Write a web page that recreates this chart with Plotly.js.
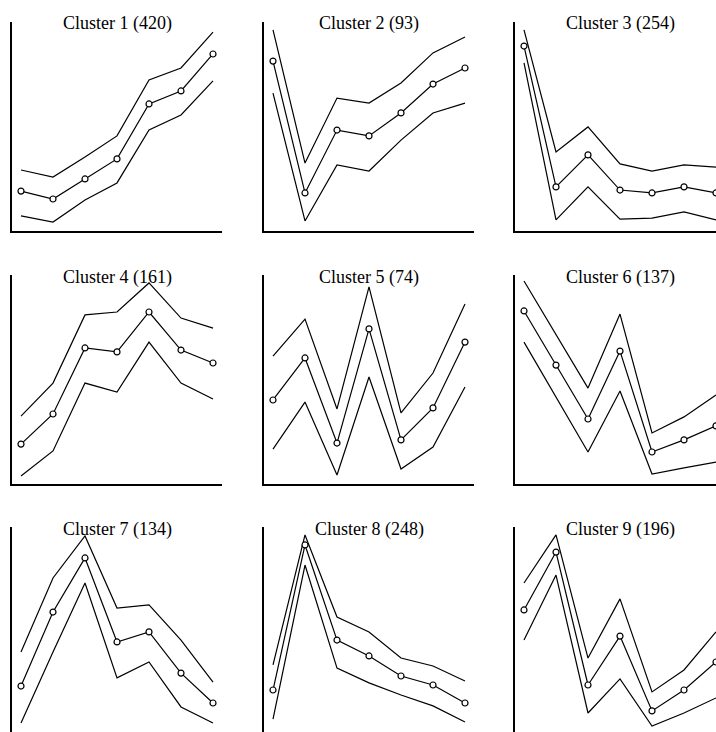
<!DOCTYPE html>
<html>
<head>
<meta charset="utf-8">
<script src="https://cdn.plot.ly/plotly-3.0.1.min.js"></script>
<style>
  html, body { margin: 0; padding: 0; background: #fff; }
  #wrap { width: 716px; height: 732px; overflow: hidden; position: relative; }
  #chart { width: 730px; height: 745px; }
</style>
</head>
<body>
<div id="wrap"><div id="chart"></div></div>
<script>
// ---- data (values on a 0-100 scale) ----
const timePoints = [1, 2, 3, 4, 5, 6, 7];
const clusterNames = ["Cluster 1", "Cluster 2", "Cluster 3", "Cluster 4", "Cluster 5",
                      "Cluster 6", "Cluster 7", "Cluster 8", "Cluster 9"];
const clusterSizes = [420, 93, 254, 161, 74, 137, 134, 248, 196];

const meanProfiles = [
  [19.1, 15.3, 24.9, 34.5, 60.8, 67.0, 84.7],
  [81.3, 18.2, 48.3, 45.5, 56.5, 70.3, 78.0],
  [88.5, 21.1, 36.4, 19.6, 18.2, 21.1, 18.2],
  [19.1, 33.5, 65.1, 63.2, 82.3, 64.1, 57.9],
  [40.2, 60.3, 19.6, 74.2, 21.1, 36.4, 67.9],
  [82.8, 56.9, 31.1, 63.6, 15.3, 21.1, 27.8],
  [23.9, 59.3, 85.2, 45.0, 49.8, 30.1, 15.8],
  [22.0, 91.4, 45.9, 38.3, 28.7, 24.4, 15.8],
  [60.3, 88.0, 24.4, 47.8, 12.0, 22.0, 35.4]
];
const upperBand = [
  [29.2, 25.8, 35.4, 45.5, 72.3, 78.0, 95.2],
  [96.2, 32.5, 63.6, 61.2, 70.8, 85.2, 92.8],
  [96.2, 37.8, 49.8, 32.1, 28.7, 31.6, 30.6],
  [32.5, 48.3, 80.9, 82.3, 96.2, 79.4, 74.6],
  [61.2, 78.9, 35.9, 94.3, 34.0, 53.1, 86.1],
  [97.1, 71.3, 45.9, 81.3, 24.4, 32.1, 42.6],
  [40.2, 75.6, 95.7, 61.2, 62.7, 45.9, 25.8],
  [34.0, 96.2, 56.9, 49.8, 37.3, 33.5, 26.3],
  [73.2, 96.2, 37.3, 65.6, 21.1, 31.6, 49.8]
];
const lowerBand = [
  [7.2, 4.3, 14.8, 23.0, 48.3, 55.5, 71.8],
  [66.0, 4.8, 31.6, 28.7, 43.5, 56.5, 61.2],
  [80.4, 5.3, 21.1, 5.7, 6.2, 9.1, 5.3],
  [3.8, 15.8, 48.3, 44.0, 67.9, 48.3, 40.7],
  [16.7, 39.2, 4.3, 51.2, 7.2, 17.7, 46.4],
  [67.9, 41.6, 15.3, 44.5, 4.8, 7.7, 10.5],
  [6.2, 40.2, 73.2, 27.8, 35.4, 13.9, 6.2],
  [8.1, 81.8, 32.5, 25.4, 19.6, 14.4, 6.7],
  [45.9, 77.0, 11.0, 27.3, 4.8, 11.0, 18.2]
];

// ---- layout geometry (pixels) ----
const W = 730, H = 745;
const colLeft = [12, 264, 515];
const rowTop = [22, 275, 527];
const panelW = 210, panelH = 209;

const traces = [];
const layout = {
  width: W, height: H,
  margin: {l: 0, r: 0, t: 0, b: 0},
  paper_bgcolor: "#fff", plot_bgcolor: "#fff",
  showlegend: false,
  annotations: []
};

for (let k = 0; k < 9; k++) {
  const r = Math.floor(k / 3), c = k % 3;
  const n = k + 1;
  const xa = "x" + (n === 1 ? "" : n), ya = "y" + (n === 1 ? "" : n);
  const L = colLeft[c], T = rowTop[r];
  const axBase = {
    showline: true, linecolor: "#000", linewidth: 2,
    showgrid: false, zeroline: false, ticks: "",
    showticklabels: false, fixedrange: true
  };
  layout["xaxis" + (n === 1 ? "" : n)] = Object.assign({}, axBase, {
    domain: [L / W, (L + panelW) / W],
    range: [0.71875, 7.28125],
    anchor: ya
  });
  layout["yaxis" + (n === 1 ? "" : n)] = Object.assign({}, axBase, {
    domain: [1 - (T + panelH) / H, 1 - T / H],
    range: [0, 100],
    anchor: xa
  });
  const lineStyle = {color: "#000", width: 1.2};
  traces.push({x: timePoints, y: upperBand[k], xaxis: xa, yaxis: ya,
               mode: "lines", line: lineStyle, hoverinfo: "skip"});
  traces.push({x: timePoints, y: lowerBand[k], xaxis: xa, yaxis: ya,
               mode: "lines", line: lineStyle, hoverinfo: "skip"});
  traces.push({x: timePoints, y: meanProfiles[k], xaxis: xa, yaxis: ya,
               mode: "lines+markers", line: lineStyle,
               marker: {symbol: "circle", size: 6, color: "#fff",
                        line: {color: "#000", width: 1.2}},
               cliponaxis: true});
  layout.annotations.push({
    text: clusterNames[k] + " (" + clusterSizes[k] + ")",
    xref: "paper", yref: "paper",
    x: (L + panelW / 2) / W, y: 1 - (T + 2) / H,
    xanchor: "center", yanchor: "middle", showarrow: false,
    font: {family: "Liberation Serif, Times New Roman, serif", size: 18, color: "#000"}
  });
}

Plotly.newPlot("chart", traces, layout, {displayModeBar: false, staticPlot: true});
</script>
</body>
</html>
